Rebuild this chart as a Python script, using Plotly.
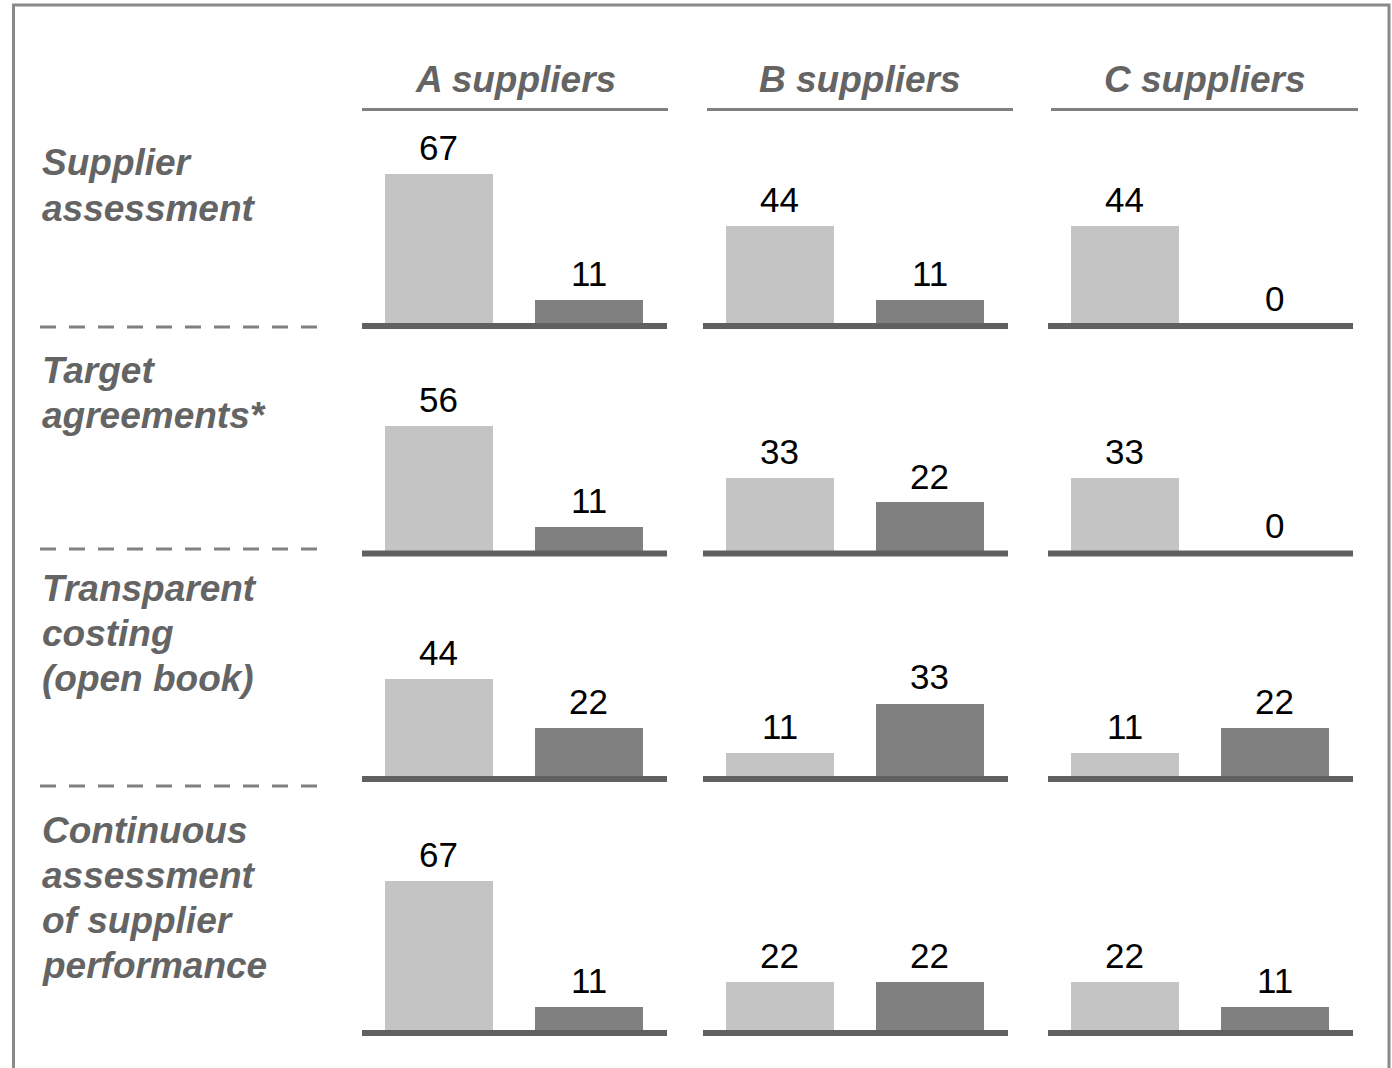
import plotly.graph_objects as go

W, H = 1392, 1068

# Column and row categories
suppliers = ["A suppliers", "B suppliers", "C suppliers"]
measures = [
    "Supplier<br>assessment",
    "Target<br>agreements*",
    "Transparent<br>costing<br>(open book)",
    "Continuous<br>assessment<br>of supplier<br>performance",
]

# Shares in % per measure (rows), one pair of lists per supplier class
a_light = [67, 56, 44, 67]
a_dark = [11, 11, 22, 11]
b_light = [44, 33, 11, 22]
b_dark = [11, 22, 33, 22]
c_light = [44, 33, 11, 22]
c_dark = [0, 0, 22, 11]

light_by_col = [a_light, b_light, c_light]
dark_by_col = [a_dark, b_dark, c_dark]

LIGHT = "#c4c4c4"
DARK = "#808080"
AXIS = "#606060"
LABEL = "#646464"
FONT = "Liberation Sans, Arial, sans-serif"

# Geometry (pixels)
col_px = [(362, 667), (703, 1008), (1048, 1353)]
head_px = [(362, 668), (707, 1013), (1051, 1358)]
zero_px = [324.5, 552.0, 777.5, 1031.5]
label_top_px = [163, 370, 588, 830]
sep_px = [327, 549, 786]
PX_PER_UNIT = 2.25
Y_MAX = 75
X_RANGE = [-0.513, 1.52]
BAR_W = 0.72


def fx(x):
    return x / W


def fy(y):
    return 1 - y / H


def ref(i):
    return "" if i == 1 else str(i)


fig = go.Figure()
layout = dict(
    width=W, height=H,
    margin=dict(l=0, r=0, t=0, b=0),
    paper_bgcolor="white", plot_bgcolor="white",
    showlegend=False,
    bargap=0,
)
annotations = []
shapes = []

for r, measure in enumerate(measures):
    z = zero_px[r]
    for c in range(3):
        idx = r * 3 + c + 1
        s = ref(idx)
        x0, x1 = col_px[c]
        layout["xaxis" + s] = dict(
            domain=[fx(x0), fx(x1)], range=X_RANGE, visible=False,
            fixedrange=True, anchor="y" + s,
        )
        layout["yaxis" + s] = dict(
            domain=[fy(z), fy(z - Y_MAX * PX_PER_UNIT)], range=[0, Y_MAX],
            visible=False, fixedrange=True, anchor="x" + s,
        )
        vals = [light_by_col[c][r], dark_by_col[c][r]]
        fig.add_trace(go.Bar(
            x=[0, 1], y=vals, width=BAR_W,
            marker=dict(color=[LIGHT, DARK], line=dict(width=0)),
            xaxis="x" + s, yaxis="y" + s, hoverinfo="y",
        ))
        for j, v in enumerate(vals):
            annotations.append(dict(
                x=j, y=v, xref="x" + s, yref="y" + s, text=str(v),
                showarrow=False, yanchor="bottom", xanchor="center", yshift=5,
                font=dict(family=FONT, size=35, color="black"),
            ))
        # baseline under each pair of bars
        shapes.append(dict(
            type="line", xref="paper", yref="paper",
            x0=fx(x0), x1=fx(x1), y0=fy(z + 1.5), y1=fy(z + 1.5),
            line=dict(color=AXIS, width=6),
        ))

    # row label, one annotation per line
    for k, line in enumerate(measure.split("<br>")):
        annotations.append(dict(
            x=fx(40), y=fy(label_top_px[r] + 45 * k), xref="paper", yref="paper",
            text="<b><i>" + line + "</i></b>", showarrow=False,
            xanchor="left", yanchor="middle",
            font=dict(family=FONT, size=37, color=LABEL),
        ))

# dashed separators between rows
for y in sep_px:
    shapes.append(dict(
        type="line", xref="paper", yref="paper",
        x0=fx(40), x1=fx(318), y0=fy(y), y1=fy(y),
        line=dict(color=DARK, width=3, dash="16px,13px"),
    ))

# column headers with underline
for c, name in enumerate(suppliers):
    h0, h1 = head_px[c]
    annotations.append(dict(
        x=fx((h0 + h1) / 2), y=fy(79), xref="paper", yref="paper",
        text="<b><i>" + name + "</i></b>", showarrow=False,
        xanchor="center", yanchor="middle",
        font=dict(family=FONT, size=37, color=LABEL),
    ))
    shapes.append(dict(
        type="line", xref="paper", yref="paper",
        x0=fx(h0), x1=fx(h1), y0=fy(109.5), y1=fy(109.5),
        line=dict(color=DARK, width=3),
    ))

# outer frame
shapes.append(dict(
    type="rect", xref="paper", yref="paper",
    x0=fx(13.5), x1=fx(1389), y0=fy(5), y1=fy(1090),
    line=dict(color="#8a8a8a", width=3), fillcolor="rgba(0,0,0,0)",
))

layout["annotations"] = annotations
layout["shapes"] = shapes
fig.update_layout(**layout)

fig.write_html("out.html", config={"displayModeBar": False})
